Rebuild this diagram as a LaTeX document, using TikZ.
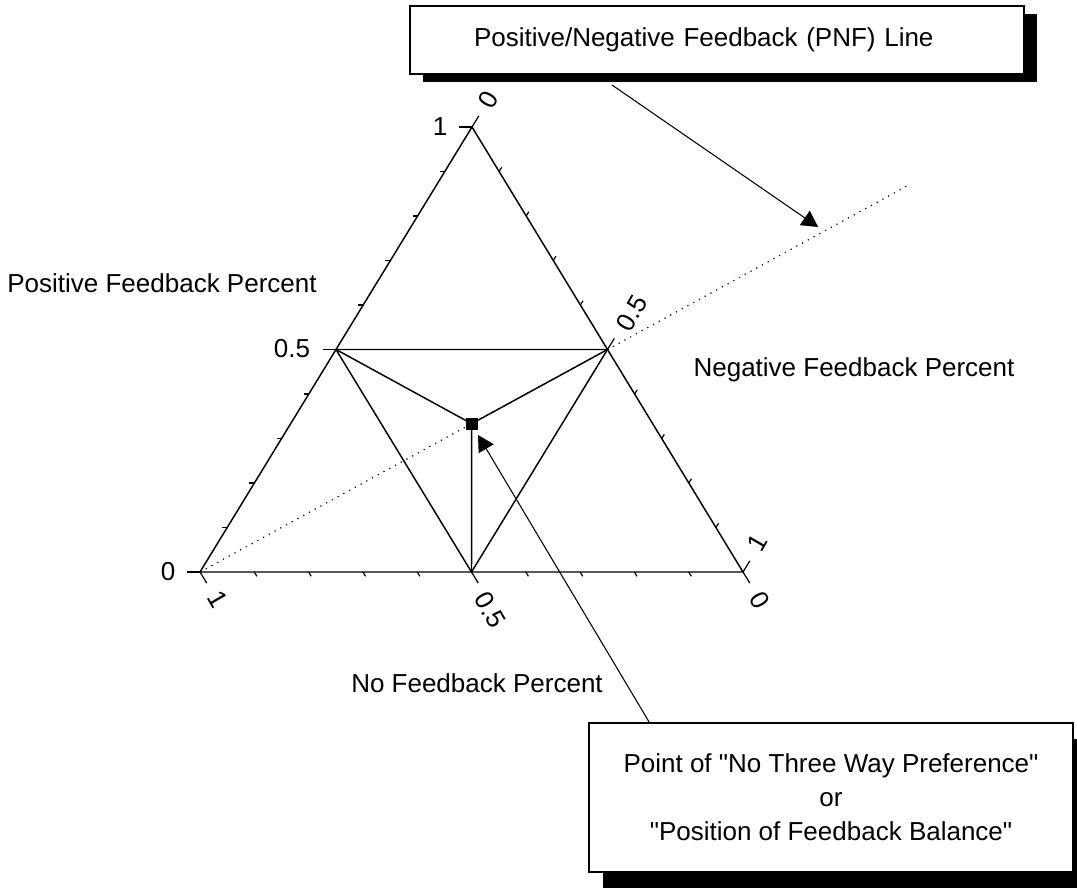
\documentclass[tikz,border=0pt]{standalone}
\usepackage{fontspec}
\setmainfont{Liberation Sans}[Ligatures=TeXOff]
\usetikzlibrary{arrows.meta,calc,shadows}
\begin{document}
\begin{tikzpicture}[x=0.75pt,y=-0.75pt,
  every node/.style={font=\fontsize{19.5pt}{25.5pt}\selectfont, inner sep=0pt},
  axis/.style={line width=1.1pt, black},
  tickmark/.style={line width=0.9pt},
  pnf/.style={line width=0.9pt, dash pattern=on 0.9pt off 4pt},
  callout/.style={line width=0.8pt, -{Triangle[length=12pt,width=13pt]}},
  boxbase/.style={draw, line width=1.1pt, fill=white},
  boxa/.style={boxbase, drop shadow={shadow xshift=9.75pt, shadow yshift=-6pt, fill=black, opacity=1}},
  boxb/.style={boxbase, drop shadow={shadow xshift=10.5pt, shadow yshift=-12pt, fill=black, opacity=1}},
]
\useasboundingbox (0,0) rectangle (1077,888);

% vertices
\coordinate (BL) at (200,572);
\coordinate (BR) at (743,572);
\coordinate (A) at (472,127);
\coordinate (L) at ($(BL)!0.5!(A)$);
\coordinate (R) at ($(BR)!0.5!(A)$);
\coordinate (B) at ($(BL)!0.5!(BR)$);
\coordinate (C) at ($(B)!0.3333!(A)$);
\coordinate (E) at ($(BL)!1.737!(R)$);

% ticks
\foreach \i in {0,...,10} {
  \pgfmathsetmacro\len{(\i==0||\i==5||\i==10) ? 13 : 5}
  \draw[tickmark] ($(BL)!\i/10!(A)$) -- ++(-\len,0);
  \draw[tickmark] ($(BL)!\i/10!(BR)$) -- ++(0.52*\len,0.854*\len);
  \draw[tickmark] ($(BR)!\i/10!(A)$) -- ++(0.522*\len,-0.854*\len);
}

% triangle and inner lines
\draw[axis] (BL) -- (BR) -- (A) -- cycle;
\draw[axis] (L) -- (R) -- (B) -- cycle;
\draw[pnf] (BL) -- (E);
\node[fill=black, minimum size=9pt] (ctr) at (C) {};
\draw[axis] (L) -- (ctr.center) -- (R);
\draw[axis] (ctr.center) -- (B);

% axis numbers
\node (l0) at (168,572) {0};
\node (l5) at (292,349) {0.5};
\node (l1) at (440,127) {1};
\node[rotate=-60] (b1) at (218,599) {1};
\node[rotate=-60] (b5) at (490,610) {0.5};
\node[rotate=-60] (b0) at (760,600) {0};
\node[rotate=60] (r0) at (488,100) {0};
\node[rotate=60] (r5) at (632,313) {0.5};
\node[rotate=60] (r1) at (757,543) {1};

% axis titles
\node[anchor=base] (tpos) at (162,292) {Positive Feedback Percent};
\node[anchor=base] (tneg) at (854,376) {Negative Feedback Percent};
\node[anchor=base] (tno) at (477,692) {No Feedback Percent};

% boxes
\node[boxa, minimum height=51pt, text width=364.5pt, inner xsep=48pt, align=left] (pnfbox) at (717,40) {Positive/Negative Feedback (PNF) Line};
\node[boxb, minimum width=363pt, minimum height=111.75pt, align=center] (balbox) at (831,797.5) {Point of "No Three Way Preference"\\or\\"Position of Feedback Balance"};

% callouts
\coordinate (a1s) at (612,85);
\coordinate (a1e) at (818,227);
\draw[callout] (a1s) -- (a1e);
\coordinate (a2s) at ($(balbox.north west)+(61,0)$);
\coordinate (a2e) at (478,435);
\draw[callout] (a2s) -- (a2e);
\end{tikzpicture}
\end{document}
